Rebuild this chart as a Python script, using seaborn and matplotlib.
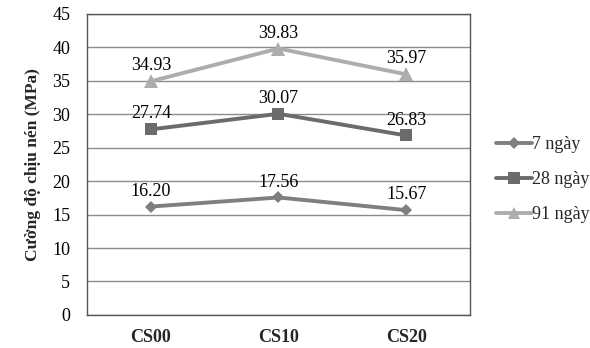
import matplotlib
matplotlib.use("Agg")
import matplotlib.pyplot as plt
import seaborn as sns
import pandas as pd

mixes = ["CS00", "CS10", "CS20"]
ages = ["7 ngày", "28 ngày", "91 ngày"]
strength_7 = [16.20, 17.56, 15.67]
strength_28 = [27.74, 30.07, 26.83]
strength_91 = [34.93, 39.83, 35.97]
y_ticks = [0, 5, 10, 15, 20, 25, 30, 35, 40, 45]

df = pd.DataFrame({
    "mix": mixes * 3,
    "age": [ages[0]] * 3 + [ages[1]] * 3 + [ages[2]] * 3,
    "value": strength_7 + strength_28 + strength_91,
})

sns.set_theme(style="white")
plt.rcParams["font.family"] = ["Liberation Serif", "DejaVu Serif"]

palette = {"7 ngày": "#7f7f7f", "28 ngày": "#6b6b6b", "91 ngày": "#adadad"}
markers = {"7 ngày": "D", "28 ngày": "s", "91 ngày": "^"}
msize = {"7 ngày": 6.5, "28 ngày": 9, "91 ngày": 9.5}

fig = plt.figure(figsize=(5.9, 3.48), dpi=100)
ax = fig.add_axes([0.1475, 0.095, 0.649, 0.865])

sns.lineplot(data=df, x="mix", y="value", hue="age", style="age",
             palette=palette, markers=markers, dashes=False,
             linewidth=2.8, markersize=8, markeredgewidth=0, ax=ax)

for line, age in zip(ax.get_lines(), ages):
    line.set_markersize(msize[age])

for vals in (strength_7, strength_28, strength_91):
    for i, v in enumerate(vals):
        ax.annotate(f"{v:.2f}", (i, v), xytext=(0, 5), textcoords="offset points",
                    ha="center", va="bottom", fontsize=13, color="black")

ax.set_xlim(-0.5, 2.5)
ax.set_ylim(0, 45)
ax.set_yticks(y_ticks)
ax.yaxis.grid(True, color="#8c8c8c", linewidth=1)
ax.set_axisbelow(True)
for s in ax.spines.values():
    s.set_color("#555555")
    s.set_linewidth(1)
ax.tick_params(axis="y", labelsize=13, colors="black", length=0, pad=12)
ax.tick_params(axis="x", labelsize=13, length=0, pad=10)
for t in ax.get_xticklabels():
    t.set_fontweight("bold")
ax.set_xlabel("")
ax.set_ylabel("Cường độ chịu nén (MPa)", fontsize=12.5, fontweight="bold", labelpad=8)

handles, labels = ax.get_legend_handles_labels()
for h, age in zip(handles, labels):
    h.set_markersize(msize.get(age, 8) * 0.9)
ax.legend(handles, labels, loc="center left", bbox_to_anchor=(1.05, 0.45),
          frameon=False, fontsize=13, handlelength=2.0, handletextpad=0.0,
          labelspacing=1.0, borderaxespad=0)

fig.savefig("out.png", dpi=100)
